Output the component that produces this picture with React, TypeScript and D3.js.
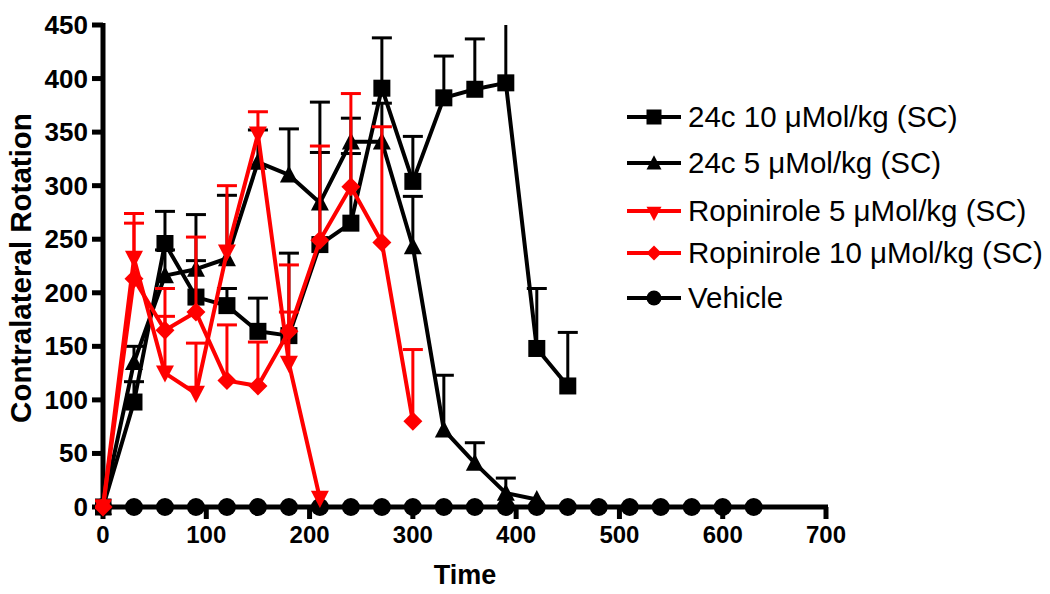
import React from "react";
import * as d3 from "d3";

const W = 1050;
const H = 594;

const xTicks = [0, 100, 200, 300, 400, 500, 600, 700];
const yTicks = [0, 50, 100, 150, 200, 250, 300, 350, 400, 450];

const vehTimes = [0, 30, 60, 90, 120, 150, 180, 210, 240, 270, 300, 330, 360, 390, 420, 450, 480, 510, 540, 570, 600, 630];
const vehValues = [0, 0, 0, 0, 0, 0, 0, 0, 0, 0, 0, 0, 0, 0, 0, 0, 0, 0, 0, 0, 0, 0];

const c10Times = [0, 30, 60, 90, 120, 150, 180, 210, 240, 270, 300, 330, 360, 390, 420, 450];
const c10Values = [0, 98, 246, 196, 188, 164, 160, 245, 265, 391, 304, 382, 390, 396, 148, 113];
const c10Upper = [null, 117, 276, 273, 204, 195, 237, 331, 330, 438, 346, 421, 437, 480, 204, 163];

const c5Times = [0, 30, 60, 90, 120, 150, 180, 210, 240, 270, 300, 330, 360, 390, 420];
const c5Values = [0, 135, 216, 222, 232, 322, 310, 284, 341, 341, 243, 72, 41, 13, 7];
const c5Upper = [null, 150, 240, 230, 291, 352, 353, 378, 363, 377, 290, 123, 60, 27, null];

const r5Times = [0, 30, 60, 90, 120, 150, 180, 210];
const r5Values = [0, 232, 125, 106, 238, 348, 134, 8];
const r5Upper = [null, 274, 178, 153, 300, 369, 182, null];

const r10Times = [0, 30, 60, 90, 120, 150, 180, 210, 240, 270, 300];
const r10Values = [0, 213, 165, 182, 118, 113, 164, 249, 299, 247, 80];
const r10Upper = [null, 265, 204, 252, 170, 154, 226, 337, 386, 355, 147];

const legendLabels = [
  "24c 10 μMol/kg (SC)",
  "24c 5 μMol/kg (SC)",
  "Ropinirole 5 μMol/kg (SC)",
  "Ropinirole 10 μMol/kg (SC)",
  "Vehicle",
];

type Shape = "square" | "triangle" | "down" | "diamond" | "circle";

const FONT = "'Liberation Sans', Arial, Helvetica, sans-serif";
const RED = "#ff0000";

function Marker({ shape, cx, cy, size, color }: { shape: Shape; cx: number; cy: number; size: number; color: string }) {
  const s = size / 2;
  if (shape === "square") return <rect x={cx - s} y={cy - s} width={size} height={size} fill={color} />;
  if (shape === "circle") return <circle cx={cx} cy={cy} r={s} fill={color} />;
  if (shape === "triangle")
    return <path d={`M${cx},${cy - s * 1.05} L${cx + s},${cy + s * 0.85} L${cx - s},${cy + s * 0.85} Z`} fill={color} />;
  if (shape === "down")
    return <path d={`M${cx},${cy + s * 1.05} L${cx + s},${cy - s * 0.85} L${cx - s},${cy - s * 0.85} Z`} fill={color} />;
  return <path d={`M${cx},${cy - s} L${cx + s},${cy} L${cx},${cy + s} L${cx - s},${cy} Z`} fill={color} />;
}

export default function App() {
  const x = d3.scaleLinear().domain([0, 700]).range([103, 826]);
  const y = d3.scaleLinear().domain([0, 450]).range([507, 25]);
  const line = d3
    .line<[number, number]>()
    .x((d) => x(d[0]))
    .y((d) => y(d[1]));

  const series = [
    { name: "veh", times: vehTimes, values: vehValues, upper: null as (number | null)[] | null, color: "#000", shape: "circle" as Shape, size: 18 },
    { name: "c5", times: c5Times, values: c5Values, upper: c5Upper, color: "#000", shape: "triangle" as Shape, size: 18 },
    { name: "c10", times: c10Times, values: c10Values, upper: c10Upper, color: "#000", shape: "square" as Shape, size: 17 },
    { name: "r10", times: r10Times, values: r10Values, upper: r10Upper, color: RED, shape: "diamond" as Shape, size: 19 },
    { name: "r5", times: r5Times, values: r5Values, upper: r5Upper, color: RED, shape: "down" as Shape, size: 18 },
  ];

  const legend = [
    { label: legendLabels[0], shape: "square" as Shape, color: "#000" },
    { label: legendLabels[1], shape: "triangle" as Shape, color: "#000" },
    { label: legendLabels[2], shape: "down" as Shape, color: RED },
    { label: legendLabels[3], shape: "diamond" as Shape, color: RED },
    { label: legendLabels[4], shape: "circle" as Shape, color: "#000" },
  ];
  const legendY = [117, 163, 211, 253, 298];

  return (
    <svg width={W} height={H} style={{ position: "absolute", left: 0, top: 0, background: "#fff" }} fontFamily={FONT}>
      <defs>
        <clipPath id="plotclip">
          <rect x={95} y={y(450)} width={760} height={y(0) - y(450) + 20} />
        </clipPath>
      </defs>

      {/* axes */}
      <line x1={x(0)} x2={x(0)} y1={y(450) - 2} y2={y(0) + 3} stroke="#000" strokeWidth={5} />
      <line x1={x(0) - 2} x2={x(700) + 2} y1={y(0)} y2={y(0)} stroke="#000" strokeWidth={5} />
      {yTicks.map((t) => (
        <g key={"yt" + t}>
          <line x1={x(0) - 11} x2={x(0)} y1={y(t)} y2={y(t)} stroke="#000" strokeWidth={5} />
          <text x={88} y={y(t) + 9} textAnchor="end" fontSize={26} fontWeight="bold">
            {t}
          </text>
        </g>
      ))}
      {xTicks.map((t) => (
        <g key={"xt" + t}>
          <line x1={x(t)} x2={x(t)} y1={y(0)} y2={y(0) + 12} stroke="#000" strokeWidth={5} />
          <text x={x(t)} y={543} textAnchor="middle" fontSize={24} fontWeight="bold">
            {t}
          </text>
        </g>
      ))}
      <text x={465} y={584} textAnchor="middle" fontSize={27} fontWeight="bold">
        Time
      </text>
      <text transform="translate(31,268) rotate(-90)" textAnchor="middle" fontSize={29.5} fontWeight="bold">
        Contralateral Rotation
      </text>

      {/* series */}
      <g clipPath="url(#plotclip)">
        {series.map((s) => (
          <g key={s.name}>
            {s.upper &&
              s.times.map((t, i) => {
                const u = s.upper![i];
                if (u == null) return null;
                const capVisible = u <= 450;
                return (
                  <g key={"e" + i}>
                    <line x1={x(t)} x2={x(t)} y1={y(s.values[i])} y2={y(Math.min(u, 450))} stroke={s.color} strokeWidth={3} />
                    {capVisible && (
                      <line x1={x(t) - 10} x2={x(t) + 10} y1={y(u)} y2={y(u)} stroke={s.color} strokeWidth={3} />
                    )}
                  </g>
                );
              })}
            <path
              d={line(s.times.map((t, i) => [t, s.values[i]] as [number, number])) || ""}
              fill="none"
              stroke={s.color}
              strokeWidth={4}
              strokeLinejoin="round"
            />
            {s.times.map((t, i) => (
              <Marker key={"m" + i} shape={s.shape} cx={x(t)} cy={y(s.values[i])} size={s.size} color={s.color} />
            ))}
          </g>
        ))}
      </g>

      {/* legend */}
      {legend.map((l, i) => (
        <g key={"lg" + i}>
          <line x1={627} x2={681} y1={legendY[i]} y2={legendY[i]} stroke={l.color} strokeWidth={4} />
          <Marker shape={l.shape} cx={654} cy={legendY[i] + (l.shape === "down" ? 2 : 0)} size={15} color={l.color} />
          <text x={688} y={legendY[i] + 10} fontSize={29.5}>
            {l.label}
          </text>
        </g>
      ))}
    </svg>
  );
}
